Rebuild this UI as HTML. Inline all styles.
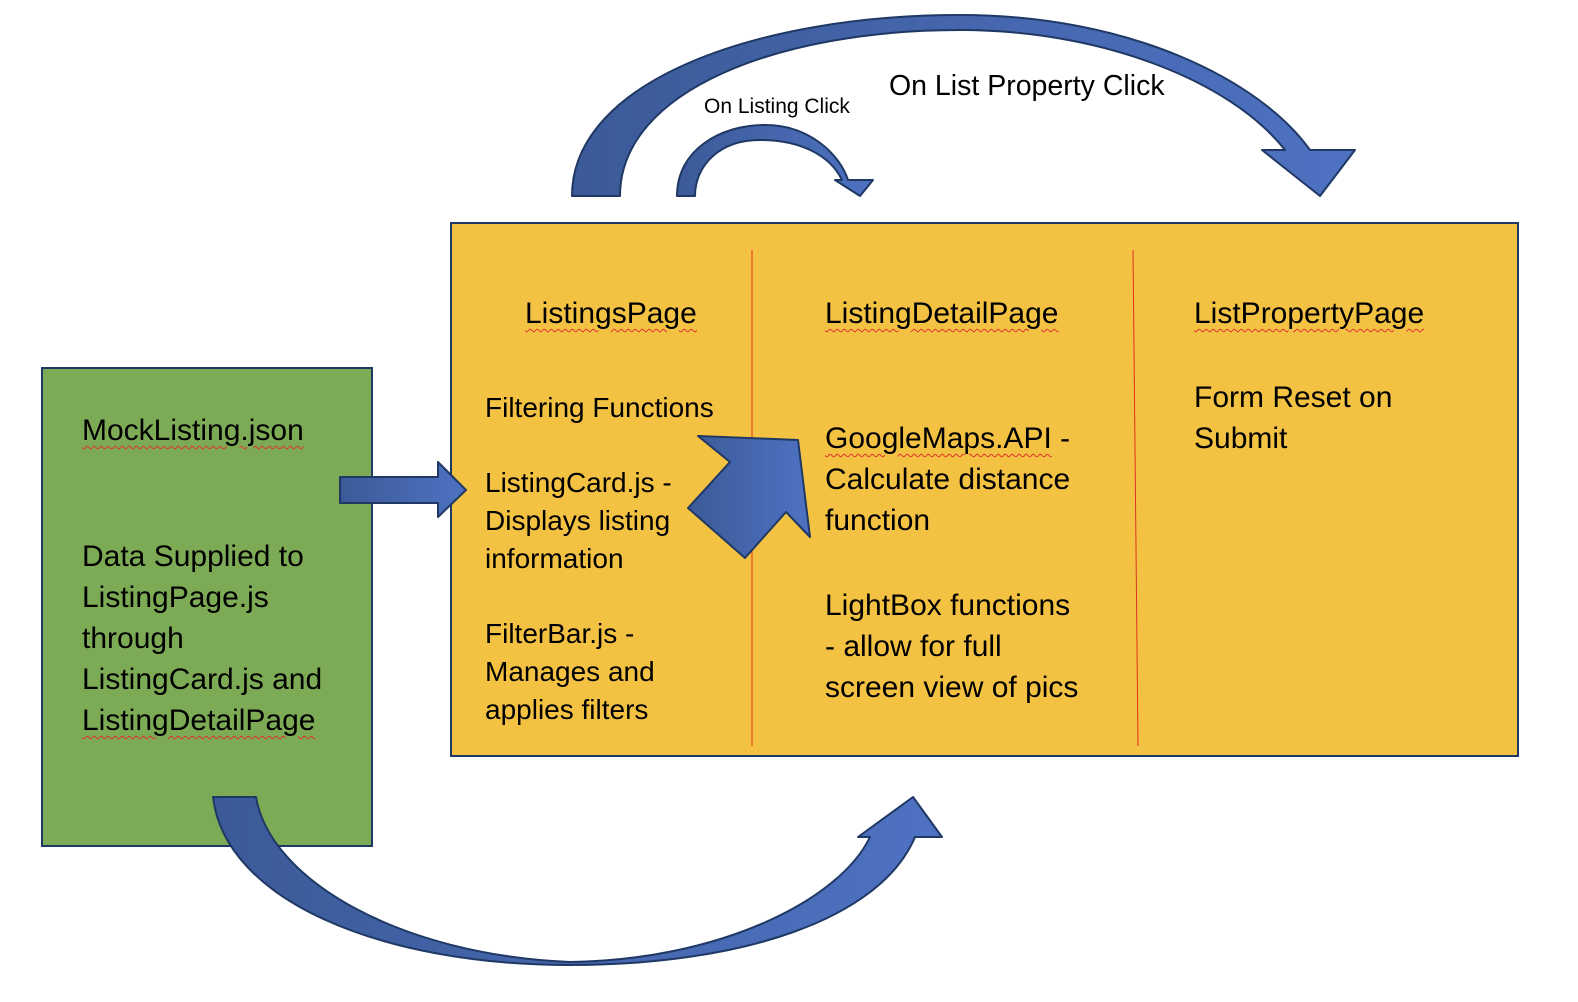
<!DOCTYPE html>
<html><head><meta charset="utf-8"><style>
body{margin:0;width:1578px;height:1002px;background:#fff;position:relative;overflow:hidden;font-family:"Liberation Sans",sans-serif;color:#000}
.t{position:absolute;font-size:30px;line-height:41px;white-space:nowrap}
.s{font-size:28px;line-height:38px}
.u{text-decoration:underline wavy #e03030;text-decoration-thickness:1px;text-underline-offset:5px}
</style></head><body>
<svg width="1578" height="1002" style="position:absolute;left:0;top:0">
<defs><linearGradient id="g" x1="0" x2="1"><stop offset="0" stop-color="#3c5a98"/><stop offset="1" stop-color="#4e72c2"/></linearGradient></defs>
<rect x="42" y="368" width="330" height="478" fill="#7dab55" stroke="#1f3864" stroke-width="2"/>
<rect x="451" y="223" width="1067" height="533" fill="#f4c242" stroke="#1f3864" stroke-width="2"/>
<line x1="752" y1="250" x2="752" y2="746" stroke="#e03020" stroke-width="1"/>
<line x1="1133" y1="250" x2="1138" y2="746" stroke="#e03020" stroke-width="1"/>
<g fill="url(#g)" stroke="#1f3864" stroke-width="2" stroke-linejoin="round">
<path d="M572,196 C572,80 760,15 960,15 C1130,15 1260,80 1310,150 L1355,150 L1320,196 L1262,150 L1285,150 C1230,80 1100,30 960,30 C780,30 620,90 620,196 Z"/>
<path d="M677,196 C677,150 720,125 765,125 C810,125 840,155 848,180 L873,180 L860,196 L835,180 L842,180 C830,155 800,140 760,140 C720,140 695,165 695,196 Z"/>
<path d="M213,797 L256,797 C270,880 400,955 570,962 C720,960 840,900 870,837 L858,837 L913,797 L942,837 L915,837 C880,920 740,965 570,965 C380,965 225,900 213,797 Z"/>
<path d="M340,477 L438,477 L438,462 L466,490 L438,517 L438,503 L340,503 Z"/>
<path d="M698,436 L798,440 L810,537 L786,512 L745,558 L688,508 L730,462 Z"/>
</g>
</svg>
<div class="t" style="left:704px;top:94px;font-size:21px;line-height:26px">On Listing Click</div>
<div class="t" style="left:889px;top:66px;font-size:28.5px">On List Property Click</div>
<div class="t" style="left:82px;top:410px"><span class="u">MockListing.json</span></div>
<div class="t" style="left:82px;top:536px">Data Supplied to<br>ListingPage.js<br>through<br>ListingCard.js and<br><span class="u">ListingDetailPage</span></div>
<div class="t" style="left:525px;top:293px"><span class="u">ListingsPage</span></div>
<div class="t" style="left:825px;top:293px"><span class="u">ListingDetailPage</span></div>
<div class="t" style="left:1194px;top:293px"><span class="u">ListPropertyPage</span></div>
<div class="t s" style="left:485px;top:389px">Filtering Functions</div>
<div class="t s" style="left:485px;top:464px">ListingCard.js -<br>Displays listing<br>information</div>
<div class="t s" style="left:485px;top:615px">FilterBar.js -<br>Manages and<br>applies filters</div>
<div class="t" style="left:825px;top:418px"><span class="u">GoogleMaps.API</span> -<br>Calculate distance<br>function</div>
<div class="t" style="left:825px;top:585px">LightBox functions<br>- allow for full<br>screen view of pics</div>
<div class="t" style="left:1194px;top:377px">Form Reset on<br>Submit</div>
</body></html>
